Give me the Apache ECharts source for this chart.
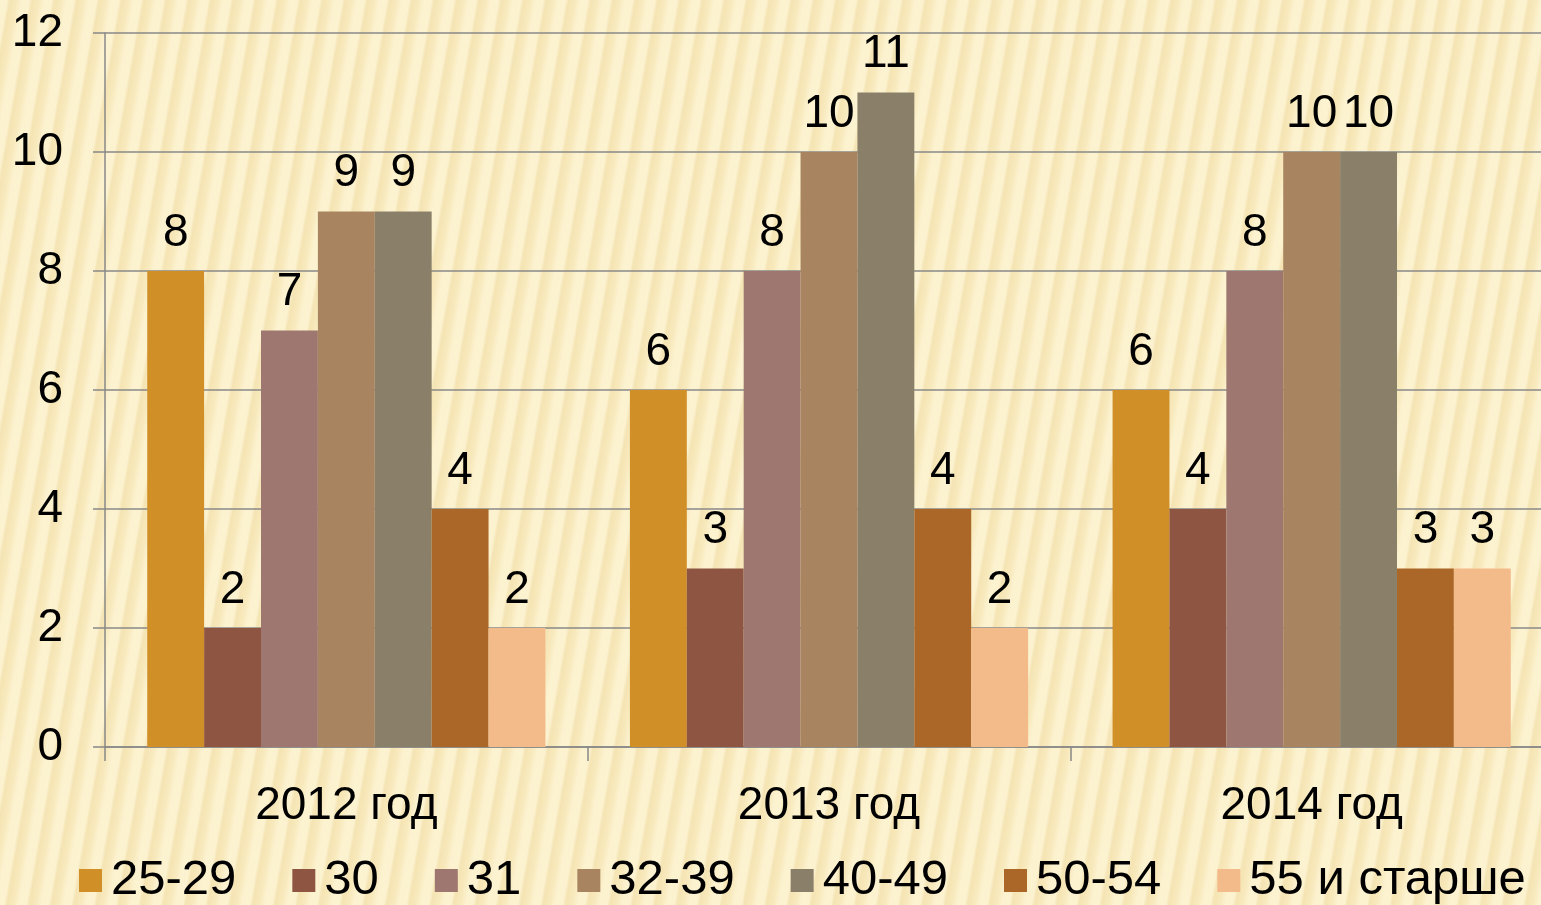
<!DOCTYPE html>
<html>
<head>
<meta charset="utf-8">
<script src="https://cdn.jsdelivr.net/npm/echarts@6/dist/echarts.min.js"></script>
<style>
html,body{margin:0;padding:0;width:1541px;height:905px;overflow:hidden;}
body{
  background-color:#F8E9BC;
  background-image:
    repeating-linear-gradient(100deg, rgba(255,250,225,0.55) 0px, rgba(255,250,225,0.55) 7px, rgba(230,205,140,0.18) 10px, rgba(255,250,225,0.0) 16px, rgba(255,250,225,0.55) 22px);
}
#chart{width:1541px;height:905px;}
</style>
</head>
<body>
<div id="chart"></div>
<script>
const categories = ['2012 год', '2013 год', '2014 год'];
const seriesNames = ['25-29', '30', '31', '32-39', '40-49', '50-54', '55 и старше'];
const s25_29 = [8, 6, 6];
const s30 = [2, 3, 4];
const s31 = [7, 8, 8];
const s32_39 = [9, 10, 10];
const s40_49 = [9, 11, 10];
const s50_54 = [4, 4, 3];
const s55 = [2, 2, 3];
const yTicks = [0, 2, 4, 6, 8, 10, 12];

const values = [s25_29, s30, s31, s32_39, s40_49, s50_54, s55];
const colors = ['#D18F27', '#8E5542', '#9E7870', '#A98460', '#8A806A', '#AB6727', '#F3BA8A'];

const chart = echarts.init(document.getElementById('chart'));
const font = '"Liberation Sans", Arial, sans-serif';
const fs = 46;
chart.setOption({
  backgroundColor: 'transparent',
  color: colors,
  textStyle: {fontFamily: font},
  grid: {left: 105, top: 33, height: 714, width: 1448, containLabel: false, outerBoundsMode: 'none'},
  legend: {
    data: seriesNames,
    left: 74, top: 851,
    itemWidth: 23, itemHeight: 23, itemGap: 56,
    icon: 'rect',
    textStyle: {fontSize: 49, color: '#000', fontFamily: font, padding: [0,0,0,4]}
  },
  xAxis: {
    type: 'category',
    data: categories,
    axisLine: {lineStyle: {color: '#888', width: 1.5}},
    axisTick: {show: true, length: 14, lineStyle: {color: '#888', width: 1.5}},
    axisLabel: {fontSize: fs, color: '#000', margin: 36, fontFamily: font}
  },
  yAxis: {
    type: 'value',
    min: yTicks[0], max: yTicks[yTicks.length - 1], interval: 2,
    axisLine: {show: true, lineStyle: {color: '#888', width: 1.5}},
    axisTick: {show: true, length: 12, lineStyle: {color: '#888', width: 1.5}},
    splitLine: {show: true, lineStyle: {color: '#888', width: 1.5}},
    axisLabel: {fontSize: fs, color: '#000', margin: 42, fontFamily: font}
  },
  series: seriesNames.map((n, i) => ({
    name: n,
    type: 'bar',
    data: values[i],
    barGap: 0,
    barCategoryGap: '17.5%',
    label: {show: true, position: 'top', distance: 15, fontSize: fs, color: '#000', fontFamily: font},
    itemStyle: {color: colors[i]}
  }))
});
</script>
</body>
</html>
